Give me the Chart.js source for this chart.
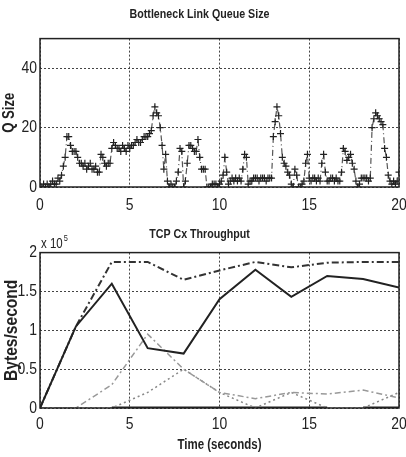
<!DOCTYPE html>
<html>
<head>
<meta charset="utf-8">
<script src="https://cdn.jsdelivr.net/npm/chart.js@4/dist/chart.umd.min.js"></script>
<style>
  html, body { margin: 0; padding: 0; background: #fff; }
  #wrap { position: relative; width: 406px; height: 457px; }
  .box { position: absolute; left: 0; width: 406px; }
</style>
</head>
<body>
<div id="wrap">
  <div class="box" style="top:0;height:218px"><canvas id="queueChart"></canvas></div>
  <div class="box" style="top:218px;height:239px"><canvas id="tputChart"></canvas></div>
</div>
<script>
// Queue size at the bottleneck link, sampled every 0.1 s from t = 0 to 20
var queueSize = [
    0, 0, 1, 0, 1, 0, 1, 2, 1, 1,
    3, 2, 4, 7, 10, 17, 17, 14, 12, 12,
    12, 10, 8, 8, 7, 8, 6, 7, 8, 6,
    6, 7, 5, 5, 11, 10, 8, 7, 8, 8,
    13, 15, 14, 13, 13, 12, 14, 13, 12, 14,
    13, 14, 14, 15, 16, 15, 15, 16, 17, 17,
    17, 18, 19, 24, 27, 25, 24, 20, 14, 6,
    11, 2, 0, 1, 0, 0, 2, 5, 13, 12,
    0, 2, 8, 14, 14, 13, 12, 12, 16, 10,
    6, 6, 6, 0, 0, 0, 1, 1, 1, 0,
    1, 2, 4, 10, 5, 1, 2, 3, 2, 3,
    2, 3, 2, 6, 11, 10, 1, 2, 2, 3,
    3, 3, 2, 3, 3, 3, 2, 3, 3, 3,
    17, 22, 27, 24, 18, 10, 8, 7, 5, 4,
    1, 0, 6, 4, 0, 0, 1, 2, 8, 11,
    3, 2, 3, 3, 2, 3, 2, 8, 11, 5,
    2, 2, 3, 3, 2, 3, 2, 2, 5, 13,
    12, 9, 10, 11, 8, 6, 2, 0, 1, 3,
    3, 3, 3, 2, 3, 20, 23, 25, 24, 23,
    22, 21, 13, 10, 4, 2, 1, 2, 1, 2,
    5
];
var queueTime = queueSize.map(function(_, i){ return i / 10; });

// Throughput per connection (units of 1e5 bytes/second), every 2 s
var tputTime = [0, 2, 4, 6, 8, 10, 12, 14, 16, 18, 20];
var cx1 = [0, 1.05, 1.6, 0.77, 0.7, 1.4, 1.78, 1.43, 1.7, 1.66, 1.55];
var cx2 = [0, 1.05, 1.88, 1.88, 1.65, 1.77, 1.88, 1.81, 1.87, 1.88, 1.88];
var cx3 = [0, 0, 0.3, 0.95, 0.5, 0.2, 0.12, 0.2, 0.18, 0.23, 0.13];
var cx4 = [0, 0, 0, 0.2, 0.5, 0.2, 0, 0.2, 0, 0, 0.2];
var cx5 = [null, null, 0, 0, 0, 0, 0, 0, 0, 0, 0];

var xTicks = [0, 5, 10, 15, 20];
var queueTicks = [0, 20, 40];
var tputTicks = [0, 0.5, 1, 1.5, 2];

var FONT = "'Liberation Sans', Arial, sans-serif";
Chart.defaults.font.family = FONT;
Chart.defaults.color = '#222';
Chart.defaults.animation = false;

// the original uses a narrow helvetica; squeeze all canvas text horizontally
var NARROW = 0.82;
var _fillText = CanvasRenderingContext2D.prototype.fillText;
CanvasRenderingContext2D.prototype.fillText = function(text, x, y, maxWidth) {
    this.save();
    this.translate(x, y);
    this.scale(NARROW, 1);
    _fillText.call(this, text, 0, 0);
    this.restore();
};

function pts(xs, ys) {
    return xs.map(function(x, i){ return { x: x, y: ys[i] }; });
}

// box around the plot area, like matlab
var frame = {
    id: 'frame',
    afterDraw: function(chart) {
        var a = chart.chartArea, c = chart.ctx;
        c.save();
        c.strokeStyle = '#222';
        c.lineWidth = 1.5;
        c.strokeRect(a.left, a.top, a.right - a.left, a.bottom - a.top);
        c.restore();
    }
};

// "x 10^5" multiplier above the y axis
var multiplier = {
    id: 'multiplier',
    afterDraw: function(chart) {
        var c = chart.ctx, a = chart.chartArea;
        c.save();
        c.fillStyle = '#222';
        c.textBaseline = 'alphabetic';
        c.font = '14px ' + FONT;
        c.fillText('x 10', a.left + 1, a.top - 5);
        var w = c.measureText('x 10').width * NARROW;
        c.font = '9px ' + FONT;
        c.fillText('5', a.left + 2 + w, a.top - 12);
        c.restore();
    }
};

function xAxis(height, pad, title) {
    return {
        type: 'linear',
        min: 0,
        max: 20,
        afterBuildTicks: function(s){ s.ticks = xTicks.map(function(v){ return { value: v }; }); },
        afterFit: function(s){ s.height = height; s.paddingLeft = 0; s.paddingRight = 0; },
        grid: { color: '#444', lineWidth: 1, drawTicks: false },
        border: { display: false, dash: [2, 2] },
        ticks: { padding: pad, font: { size: 17 }, maxRotation: 0, callback: function(v){ return String(v); } },
        title: title ? { display: true, text: title, font: { size: 14, weight: 'bold' }, padding: { top: 0, bottom: 3 } } : { display: false }
    };
}

function yAxis(max, ticks, title, size) {
    return {
        min: 0,
        max: max,
        afterBuildTicks: function(s){ s.ticks = ticks.map(function(v){ return { value: v }; }); },
        afterFit: function(s){ s.width = 40; s.paddingTop = 0; s.paddingBottom = 0; },
        grid: { color: '#444', lineWidth: 1, drawTicks: false },
        border: { display: false, dash: [2, 2] },
        ticks: { padding: 3, font: { size: 17 }, callback: function(v){ return String(v); } },
        title: { display: true, text: title, font: { size: size, weight: 'bold' }, padding: { top: 0, bottom: 0 } }
    };
}

// Queue size plot
new Chart(document.getElementById('queueChart').getContext('2d'), {
    type: 'line',
    data: {
        datasets: [{
            data: pts(queueTime, queueSize),
            borderColor: '#555',
            borderWidth: 1.2,
            borderDash: [6, 3, 1, 3],
            pointStyle: 'cross',
            pointRadius: 3.5,
            pointBorderWidth: 1.2,
            pointBorderColor: '#222',
            tension: 0
        }]
    },
    options: {
        responsive: true,
        maintainAspectRatio: false,
        layout: { padding: { left: 0, right: 7, top: 0, bottom: 0 } },
        plugins: {
            legend: { display: false },
            tooltip: { enabled: false },
            title: { display: true, text: 'Bottleneck Link Queue Size', font: { size: 13, weight: 'bold' }, color: '#222', padding: { top: 7, bottom: 16 } }
        },
        scales: {
            x: xAxis(31, 8, null),
            y: yAxis(50, queueTicks, 'Q Size', 16)
        }
    },
    plugins: [frame]
});

// Throughput plot
new Chart(document.getElementById('tputChart').getContext('2d'), {
    type: 'line',
    data: {
        datasets: [
            { data: pts(tputTime, cx1), borderColor: '#222', borderWidth: 2 },
            { data: pts(tputTime, cx2), borderColor: '#333', borderWidth: 2, borderDash: [7, 3, 2, 3] },
            { data: pts(tputTime, cx3), borderColor: '#999', borderWidth: 1.5, borderDash: [6, 3, 2, 3] },
            { data: pts(tputTime, cx4), borderColor: '#888', borderWidth: 1.5, borderDash: [2, 3] },
            { data: pts(tputTime, cx5), borderColor: '#222', borderWidth: 3,
              segment: { borderColor: function(ctx){ return ctx.p0.parsed.x === 16 ? 'rgba(0,0,0,0)' : undefined; } } }
        ]
    },
    options: {
        responsive: true,
        maintainAspectRatio: false,
        layout: { padding: { left: 0, right: 7, top: 0, bottom: 0 } },
        elements: { point: { radius: 0 }, line: { tension: 0 } },
        plugins: {
            legend: { display: false },
            tooltip: { enabled: false },
            title: { display: true, text: 'TCP Cx Throughput', font: { size: 13, weight: 'bold' }, color: '#222', padding: { top: 9, bottom: 10 } }
        },
        scales: {
            x: xAxis(49, 6, 'Time (seconds)'),
            y: yAxis(2, tputTicks, 'Bytes/second', 19)
        }
    },
    plugins: [frame, multiplier]
});
</script>
</body>
</html>
